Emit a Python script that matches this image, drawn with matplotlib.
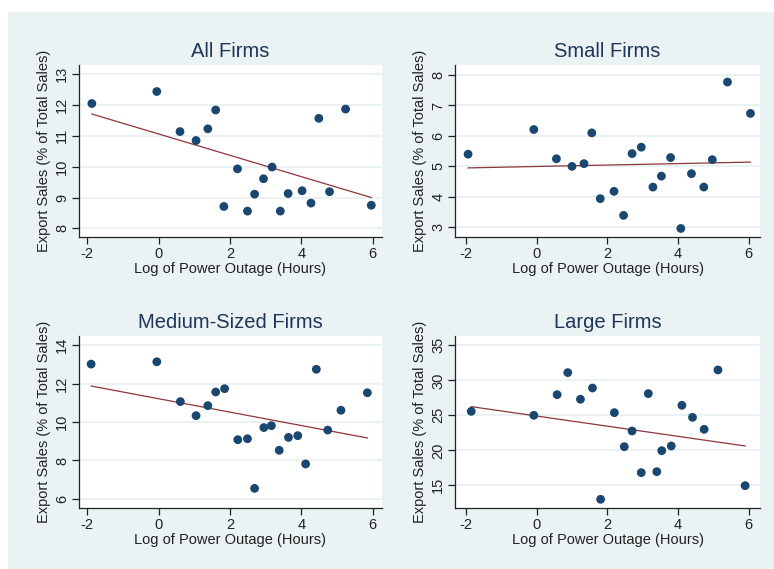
import matplotlib
matplotlib.use('Agg')
import matplotlib.pyplot as plt
import matplotlib.patches as mpatches

plt.rcParams.update({
    'font.family': 'sans-serif',
    'font.sans-serif': ['Liberation Sans', 'DejaVu Sans'],
    'font.size': 10,
})

# ---- data ----
titles = ['All Firms', 'Small Firms', 'Medium-Sized Firms', 'Large Firms']

all_x = [-1.87, -0.05, 0.60, 1.05, 1.38, 1.60, 1.83, 2.21, 2.49, 2.69,
         2.94, 3.18, 3.41, 3.63, 4.02, 4.27, 4.49, 4.79, 5.24, 5.96]
all_y = [12.05, 12.44, 11.14, 10.85, 11.23, 11.84, 8.71, 9.93, 8.56, 9.11,
         9.61, 9.99, 8.56, 9.13, 9.22, 8.82, 11.57, 9.19, 11.87, 8.75]

small_x = [-1.94, -0.08, 0.56, 1.00, 1.34, 1.56, 1.80, 2.19, 2.46, 2.70,
           2.96, 3.29, 3.53, 3.79, 4.08, 4.38, 4.73, 4.97, 5.40, 6.05]
small_y = [5.40, 6.21, 5.25, 5.00, 5.09, 6.10, 3.94, 4.18, 3.39, 5.42,
           5.63, 4.32, 4.68, 5.29, 2.96, 4.76, 4.32, 5.22, 7.77, 6.74]

medium_x = [-1.89, -0.05, 0.61, 1.05, 1.38, 1.60, 1.85, 2.22, 2.49, 2.69,
            2.95, 3.16, 3.38, 3.64, 3.90, 4.12, 4.42, 4.74, 5.11, 5.85]
medium_y = [13.01, 13.13, 11.06, 10.33, 10.85, 11.56, 11.73, 9.08, 9.13, 6.55,
            9.71, 9.81, 8.53, 9.20, 9.29, 7.82, 12.74, 9.58, 10.61, 11.52]

large_x = [-1.85, -0.08, 0.58, 0.88, 1.24, 1.58, 1.81, 2.20, 2.48, 2.70,
           2.96, 3.16, 3.40, 3.54, 3.81, 4.11, 4.41, 4.74, 5.13, 5.90]
large_y = [25.57, 25.00, 27.95, 31.10, 27.29, 28.90, 13.00, 25.38, 20.52, 22.76,
           16.81, 28.10, 16.95, 19.95, 20.62, 26.43, 24.71, 23.00, 31.48, 14.95]

# fitted line values at the smallest and largest x of each panel
fit_start = [11.71, 4.95, 11.87, 26.24]
fit_end = [9.00, 5.14, 9.17, 20.62]

xs = [all_x, small_x, medium_x, large_x]
ys = [all_y, small_y, medium_y, large_y]
yticks = [[8, 9, 10, 11, 12, 13], [3, 4, 5, 6, 7, 8],
          [6, 8, 10, 12, 14], [15, 20, 25, 30, 35]]

# ---- layout (pixels of a 774x569 canvas) ----
W, H = 774, 569
boxes = [(79, 65, 382, 237), (455, 65, 760, 237),
         (79, 336, 382, 508), (455, 336, 760, 508)]
xlims = [(-2.23, 6.26), (-2.31, 6.32), (-2.23, 6.26), (-2.31, 6.32)]
ylims = [(7.72, 13.3), (2.68, 8.33), (5.53, 14.47), (11.76, 36.33)]

navy = '#1a476f'
title_col = '#1f3659'
maroon = '#90353b'
bg = '#eaf2f3'

fig = plt.figure(figsize=(W / 100, H / 100), dpi=100, facecolor='white')
region = mpatches.Rectangle((8 / W, 0), 1 - 8 / W, 1 - 12 / H,
                            transform=fig.transFigure,
                            facecolor=bg, edgecolor='none', zorder=-10)
fig.add_artist(region)

for i in range(4):
    l, t, r, b = boxes[i]
    ax = fig.add_axes([l / W, 1 - b / H, (r - l) / W, (b - t) / H])
    ax.set_facecolor('white')
    ax.set_xlim(*xlims[i])
    ax.set_ylim(*ylims[i])
    ax.set_xticks([-2, 0, 2, 4, 6])
    ax.set_xticklabels(['-2', '0', '2', '4', '6'])
    ax.set_yticks(yticks[i])
    ax.set_yticklabels([str(v) for v in yticks[i]], rotation=90, va='center')
    ax.grid(axis='y', color=bg, lw=1.5)
    ax.set_axisbelow(True)
    for s in ['top', 'right']:
        ax.spines[s].set_visible(False)
    for s in ['left', 'bottom']:
        ax.spines[s].set_color('#222222')
        ax.spines[s].set_linewidth(0.9)
    ax.tick_params(length=5, width=0.9, color='#222222', labelsize=10.5,
                   labelcolor='#222222', pad=2)

    ax.scatter(xs[i], ys[i], s=40, color=navy, edgecolors='none', zorder=3)
    ax.plot([min(xs[i]), max(xs[i])], [fit_start[i], fit_end[i]],
            color=maroon, lw=0.9, zorder=2)

    ax.set_title(titles[i], fontsize=14.5, color=title_col, pad=6)
    ax.set_xlabel('Log of Power Outage (Hours)', fontsize=10.5,
                  color='#222222', labelpad=1)
    ax.set_ylabel('Export Sales (% of Total Sales)', fontsize=10.5,
                  color='#222222', labelpad=3)

plt.savefig('out.png', dpi=100, facecolor='white')
